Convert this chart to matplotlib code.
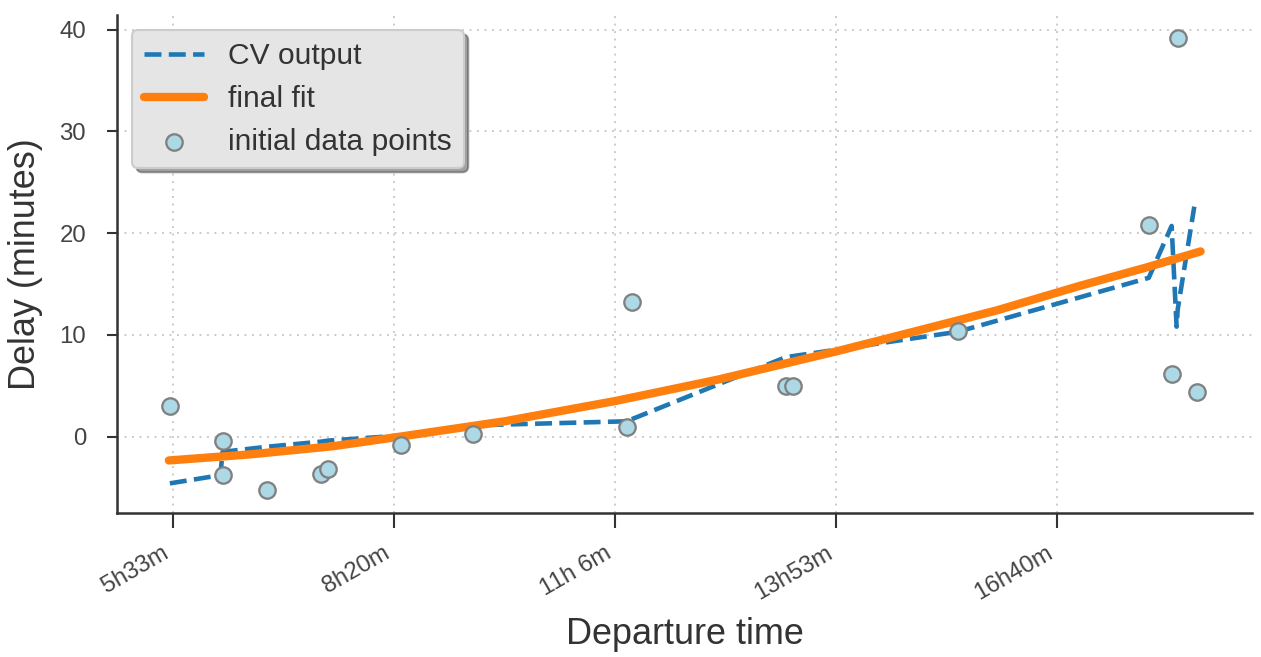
"""
Delay vs departure time: CV output, final fit and the initial data points
"""

import matplotlib
matplotlib.use('Agg')
import matplotlib.pyplot as plt
from matplotlib.ticker import FuncFormatter, MultipleLocator

# data points (departure time in seconds, delay in minutes)
dep_time = [19865, 22250, 22250, 24275, 26700, 27020, 30300, 33590, 40520,
            40790, 47720, 48030, 55500, 64140, 65175, 65450, 66345]
delay = [3.0, -0.4, -3.8, -5.3, -3.7, -3.2, -0.8, 0.3, 0.9,
         13.2, 5.0, 5.0, 10.4, 20.8, 6.1, 39.2, 4.4]

# CV output (dashed)
cv_time = [19865, 22150, 22250, 24275, 26700, 27020, 30300, 33590, 40520,
           47720, 48030, 55500, 64140, 65175, 65400, 65450, 66200]
cv_delay = [-4.6, -3.8, -1.5, -1.0, -0.5, -0.4, 0.1, 1.1, 1.5,
            7.8, 7.9, 10.3, 15.6, 20.7, 10.8, 12.5, 22.6]

# final fit
fit_time = [19820, 23510, 27245, 30305, 35000, 40025, 44660,
            50060, 53500, 57260, 61000, 64000, 66485]
fit_delay = [-2.35, -1.75, -0.95, 0.0, 1.5, 3.5, 5.6,
             8.4, 10.3, 12.4, 14.8, 16.6, 18.2]


def hm(v, pos):
    return "%2dh%2dm" % (v // 3600, (v % 3600) // 60)


plt.rcParams['font.family'] = ['Liberation Sans', 'DejaVu Sans']
plt.rcParams['font.size'] = 10

fig = plt.figure(figsize=(1261 / 150, 657 / 150), dpi=150)
ax = fig.add_axes([0.093, 0.219, 0.9, 0.758])

ax.plot(cv_time, cv_delay, '--', color='#1f77b4', lw=2.2, label='CV output')
ax.plot(fit_time, fit_delay, '-', color='#ff7f0e', lw=4,
        solid_capstyle='round', label='final fit')
ax.scatter(dep_time, delay, s=62, c='lightblue', edgecolors='grey',
           linewidths=1.1, zorder=3, label='initial data points')

# axes
ax.xaxis.set_major_locator(MultipleLocator(10000))
ax.xaxis.set_major_formatter(FuncFormatter(hm))
ax.yaxis.set_major_locator(MultipleLocator(10))
for lab in ax.get_xticklabels():
    lab.set_rotation(30)
    lab.set_ha('right')
ax.tick_params(direction='out', colors='#333333',
               labelcolor='#444444', labelsize=11.5)
ax.tick_params(axis='x', length=7, width=1, pad=7)
ax.tick_params(axis='y', length=5, width=1, pad=10)
ax.grid(True, ls=(0, (1, 3)), color='#c8c8c8', lw=0.9)
for s in ['top', 'right']:
    ax.spines[s].set_visible(False)
for s in ['left', 'bottom']:
    ax.spines[s].set_color('#333333')
    ax.spines[s].set_linewidth(1.2)

ax.set_xlabel('Departure time', fontsize='xx-large', color='#333333',
              labelpad=6)
ax.set_ylabel('Delay (minutes)', fontsize='xx-large', color='#333333',
              labelpad=8)

leg = ax.legend(loc='upper left', fontsize='x-large', shadow=True,
                frameon=True, facecolor='#e5e5e5', edgecolor='#cccccc',
                framealpha=1, borderaxespad=0.5)
for t in leg.get_texts():
    t.set_color('#333333')

fig.savefig('out.png', dpi=150)
